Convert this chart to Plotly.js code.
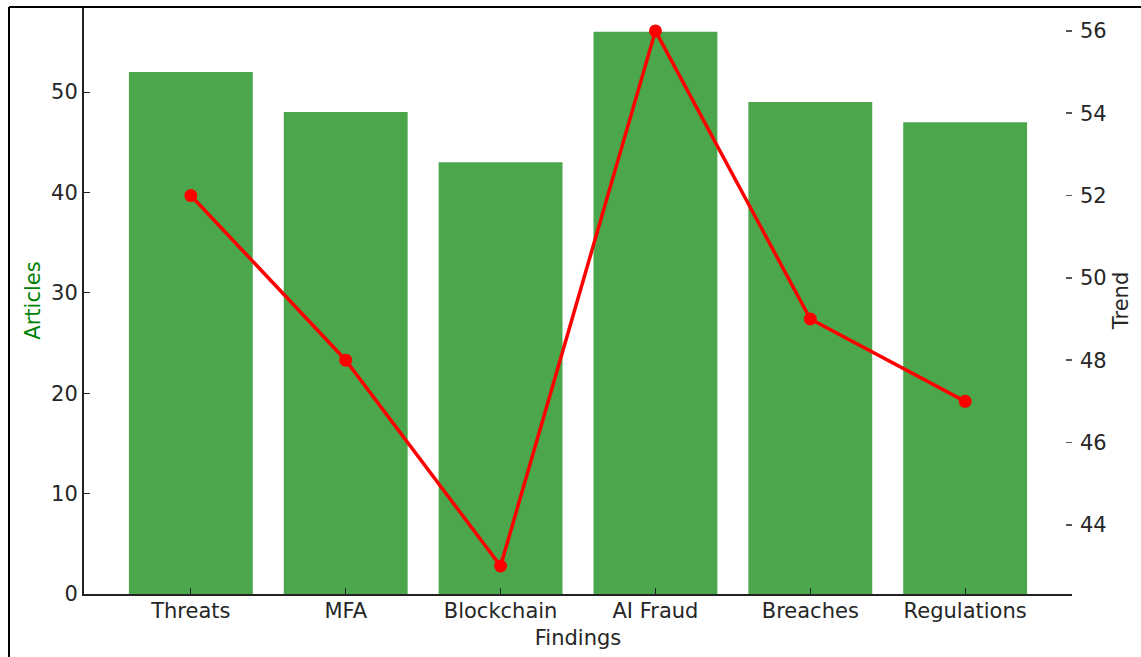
<!DOCTYPE html>
<html>
<head>
<meta charset="utf-8">
<script src="https://cdn.plot.ly/plotly-3.0.1.min.js"></script>
<style>
  html, body { margin: 0; padding: 0; background: #fff; }
  #chart { width: 1141px; height: 657px; }
</style>
</head>
<body>
<div id="chart"></div>
<script>
const categories = ["Threats", "MFA", "Blockchain", "AI Fraud", "Breaches", "Regulations"];
const articles = [52, 48, 43, 56, 49, 47];
const trend = [52, 48, 43, 56, 49, 47];
const leftTicks = [0, 10, 20, 30, 40, 50];
const rightTicks = [44, 46, 48, 50, 52, 54, 56];

const font = "DejaVu Sans, sans-serif";
const textColor = "#262626";
const fs = 21;

const bars = {
  type: "bar",
  x: categories,
  y: articles,
  marker: { color: "rgba(0,128,0,0.7)", line: { width: 0 } },
  yaxis: "y",
  hoverinfo: "x+y"
};

const line = {
  type: "scatter",
  mode: "lines+markers",
  x: categories,
  y: trend,
  line: { color: "#ff0000", width: 3.5 },
  marker: { color: "#ff0000", size: 13 },
  yaxis: "y2"
};

const layout = {
  width: 1141,
  height: 657,
  margin: { l: 84, r: 69, t: 7, b: 63, pad: 0 },
  paper_bgcolor: "#ffffff",
  plot_bgcolor: "#ffffff",
  showlegend: false,
  bargap: 0.2,
  font: { family: font, size: fs, color: textColor },
  xaxis: {
    type: "category",
    range: [-0.69, 5.69],
    showgrid: false,
    zeroline: false,
    showline: true,
    linecolor: "#222",
    linewidth: 2,
    ticks: "inside",
    ticklen: 6,
    tickcolor: "#222",
    ticklabelstandoff: -3,
    tickfont: { family: font, size: fs, color: textColor },
    title: { text: "Findings", font: { family: font, size: fs, color: textColor }, standoff: 8 }
  },
  yaxis: {
    range: [0, 58.47],
    tickvals: leftTicks,
    ticktext: leftTicks.map(String),
    showgrid: false,
    zeroline: false,
    showline: true,
    linecolor: "#222",
    linewidth: 2,
    ticks: "inside",
    ticklen: 6,
    tickcolor: "#222",
    tickfont: { family: font, size: fs, color: textColor },
    title: { text: "Articles", font: { family: font, size: fs, color: "#008000" }, standoff: 5 }
  },
  yaxis2: {
    overlaying: "y",
    side: "right",
    range: [42.32, 56.58],
    tickvals: rightTicks,
    ticktext: rightTicks.map(String),
    showgrid: false,
    zeroline: false,
    showline: false,
    ticks: "inside",
    ticklen: 6,
    tickwidth: 1.5,
    tickcolor: "#555",
    ticklabelstandoff: 7,
    tickfont: { family: font, size: fs, color: textColor },
    title: { text: "Trend", font: { family: font, size: fs, color: textColor }, standoff: 7 }
  },
  shapes: [
    { type: "line", xref: "paper", yref: "paper", x0: -0.0759, x1: 1.1, y0: 1, y1: 1,
      line: { color: "#000", width: 2 } },
    { type: "line", xref: "paper", yref: "paper", x0: -0.0759, x1: -0.0759, y0: 1, y1: -0.2,
      line: { color: "#000", width: 2 } }
  ]
};

Plotly.newPlot("chart", [bars, line], layout, { displayModeBar: false, staticPlot: true });
</script>
</body>
</html>
